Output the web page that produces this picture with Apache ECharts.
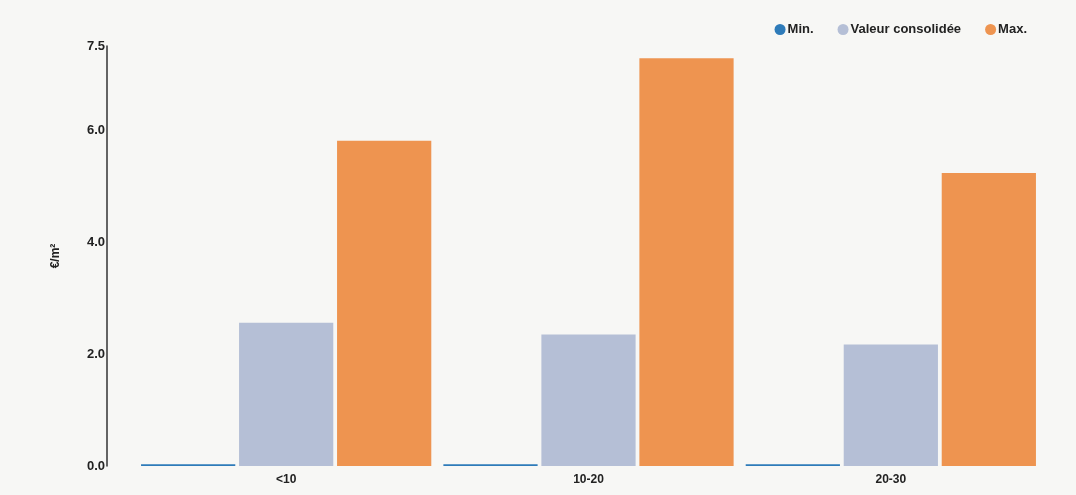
<!DOCTYPE html>
<html>
<head>
<meta charset="utf-8">
<script src="https://cdn.jsdelivr.net/npm/echarts@6/dist/echarts.min.js"></script>
<style>
  html, body { margin: 0; padding: 0; background: #f7f7f5; }
  #chart { width: 1076px; height: 495px; }
</style>
</head>
<body>
<div id="chart"></div>
<script>
// Price per m² by size band
const categories = ['<10', '10-20', '20-30'];
const minValues = [0.03, 0.03, 0.03];
const consolidatedValues = [2.56, 2.35, 2.17];
const maxValues = [5.81, 7.28, 5.23];
const seriesNames = ['Min.', 'Valeur consolidée', 'Max.'];
const yTickInterval = 2;
const yMax = 7.5;

const font = 'Liberation Sans, Arial, sans-serif';
const chart = echarts.init(document.getElementById('chart'));

chart.setOption({
  backgroundColor: '#f7f7f5',
  animation: false,
  color: ['#2e7bb9', '#b5bfd6', '#ee9450'],
  legend: {
    top: 18,
    right: 44,
    icon: 'circle',
    itemWidth: 11,
    itemHeight: 11,
    itemGap: 24,
    textStyle: { fontFamily: font, fontSize: 13, fontWeight: 'bold', color: '#222', padding: [0, 0, 0, -3] },
    data: seriesNames
  },
  grid: { left: 135, right: 34, top: 46, bottom: 29, containLabel: false },
  xAxis: {
    type: 'category',
    data: categories,
    axisLine: { show: false },
    axisTick: { show: false },
    axisLabel: { fontFamily: font, fontSize: 12, fontWeight: 'bold', color: '#222', margin: 8 }
  },
  yAxis: {
    type: 'value',
    min: 0,
    max: yMax,
    interval: yTickInterval,
    offset: 28,
    name: '€/m²',
    nameLocation: 'middle',
    nameGap: 45,
    nameTextStyle: { fontFamily: font, fontSize: 12, fontWeight: 'bold', color: '#222' },
    axisLine: { show: true, lineStyle: { color: '#333', width: 1.5 } },
    axisTick: { show: false },
    splitLine: { show: false },
    axisLabel: {
      fontFamily: font, fontSize: 13, fontWeight: 'bold', color: '#222', margin: 2,
      formatter: v => v.toFixed(1)
    }
  },
  series: [
    { name: seriesNames[0], type: 'bar', data: minValues, barGap: '4%', barCategoryGap: '4%' },
    { name: seriesNames[1], type: 'bar', data: consolidatedValues, barGap: '4%', barCategoryGap: '4%' },
    { name: seriesNames[2], type: 'bar', data: maxValues, barGap: '4%', barCategoryGap: '4%' }
  ]
});
</script>
</body>
</html>
